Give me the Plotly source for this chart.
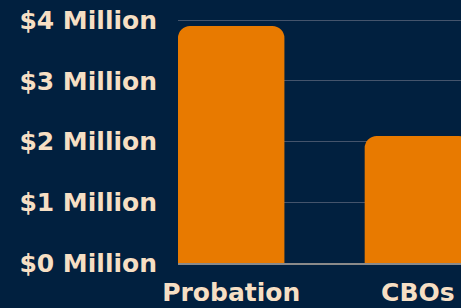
import plotly.graph_objects as go

categories = ["Probation", "CBOs"]
values = [3.9, 2.09]  # millions of dollars
tick_vals = [0, 1, 2, 3, 4]
tick_text = ["$0 Million", "$1 Million", "$2 Million", "$3 Million", "$4 Million"]

bg = "#01203f"
txt = "#f6dfc4"
orange = "#e87a00"

fig = go.Figure(go.Bar(
    x=[0, 1], y=values, marker=dict(color=orange, line=dict(width=0)),
    width=0.57, hoverinfo="skip",
))
fig.update_layout(
    width=461, height=308,
    margin=dict(l=178, r=0, t=18, b=45),
    paper_bgcolor=bg, plot_bgcolor=bg,
    barcornerradius=12,
    font=dict(family="DejaVu Sans", color=txt, size=25, weight="bold"),
    showlegend=False,
)
fig.update_xaxes(
    range=[-0.285, 1.231], tickvals=[0, 1], ticktext=categories,
    showgrid=False, showline=True, linecolor="#8a8a8a", linewidth=1.5,
    ticks="", tickfont=dict(size=25), ticklabelstandoff=6, zeroline=False,
    automargin=False,
)
fig.update_yaxes(
    range=[0, 4.033], tickvals=tick_vals, ticktext=tick_text,
    showgrid=True, gridcolor="#44546c", gridwidth=1, zeroline=False,
    ticks="", ticklabelstandoff=20, showline=False, automargin=False,
)
fig.write_html(
    "out.html",
    config={"displayModeBar": False, "staticPlot": True},
    post_script="document.body.style.margin='0';document.body.style.overflow='hidden';document.body.style.background='" + bg + "';",
)
